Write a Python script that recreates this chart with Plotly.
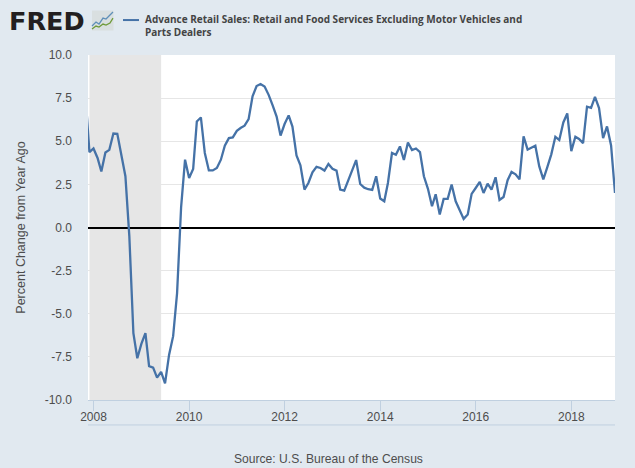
# FRED retail sales chart
import pandas as pd
import plotly.graph_objects as go

# Data (percent change from year ago)
months = pd.date_range("2007-11-01", "2018-12-01", freq="MS")
values_2007_2010 = [7.6, 4.37, 4.58, 4.03, 3.25, 4.35, 4.5, 5.45, 5.43, 4.28, 2.97, -0.5,
                    -6.12, -7.58, -6.75, -6.12, -8.04, -8.12, -8.7, -8.37, -9.04, -7.37, -6.3, -3.8,
                    1.2, 3.93, 2.87, 3.4, 6.15, 6.38, 4.32, 3.31, 3.31, 3.45, 3.93, 4.74]
values_2011_2013 = [5.18, 5.22, 5.6, 5.78, 5.9, 6.28, 7.6, 8.2, 8.32, 8.17, 7.69, 7.1,
                    6.43, 5.33, 6.0, 6.5, 5.85, 4.18, 3.6, 2.2, 2.58, 3.2, 3.52, 3.45,
                    3.3, 3.68, 3.4, 3.3, 2.2, 2.14, 2.76, 3.36, 3.91, 2.52, 2.31, 2.22]
values_2014_2016 = [2.18, 2.97, 1.68, 1.52, 2.58, 4.32, 4.22, 4.7, 3.91, 4.93, 4.49, 4.58,
                    4.37, 2.97, 2.24, 1.23, 1.93, 0.75, 1.66, 1.66, 2.49, 1.52, 1.0, 0.5,
                    0.75, 1.95, 2.29, 2.64, 2.0, 2.54, 2.2, 2.91, 1.6, 1.77, 2.74, 3.22]
values_2017_2018 = [3.08, 2.79, 5.28, 4.51, 4.62, 4.74, 3.54, 2.79, 3.49, 4.24, 5.26, 5.07,
                    6.09, 6.61, 4.43, 5.26, 5.13, 4.89, 7.0, 6.94, 7.57, 6.92, 5.18, 5.86,
                    4.76, 2.0]
values = values_2007_2010 + values_2011_2013 + values_2014_2016 + values_2017_2018

y_ticks = [-10, -7.5, -5, -2.5, 0, 2.5, 5, 7.5, 10]
y_labels = ["-10.0", "-7.5", "-5.0", "-2.5", "0.0", "2.5", "5.0", "7.5", "10.0"]
series_name = "Advance Retail Sales: Retail and Food Services Excluding Motor Vehicles and<br>Parts Dealers"
source_text = "Source: U.S. Bureau of the Census"

BG = "#e1e9f0"
BLUE = "#4572a7"
TEXT = "#4d4d4d"
AXIS = "#c0d0e0"
W, H = 635, 468
L, R, T, B = 88, 20, 55, 67.5


# paper coordinates are relative to the plot area
def px(x):
    return (x - L) / (W - L - R)


def py(y):
    return (H - B - y) / (H - T - B)


fig = go.Figure()
fig.add_trace(go.Scatter(x=months, y=values, mode="lines", line=dict(color=BLUE, width=2.3),
                         showlegend=False))

fig.update_layout(
    width=W, height=H, margin=dict(l=L, r=R, t=T, b=B, pad=0),
    paper_bgcolor=BG, plot_bgcolor="white",
    font=dict(family="Liberation Sans", size=12, color=TEXT),
    xaxis=dict(range=["2007-11-20", "2018-12-01"], tick0="2008-01-01", dtick="M24", tickformat="%Y",
               showgrid=False, ticks="outside", ticklen=10, tickcolor=AXIS, tickwidth=1,
               showline=True, linecolor=AXIS, linewidth=1, zeroline=False, ticklabelstandoff=-4,
               tickfont=dict(size=12, color=TEXT)),
    yaxis=dict(range=[-10, 10], tickvals=y_ticks, ticktext=y_labels, showgrid=True,
               gridcolor="#e6e6e6", gridwidth=1, showline=False, ticks="",
               zeroline=True, zerolinecolor="black", zerolinewidth=2,
               ticklabelstandoff=15, tickfont=dict(size=12, color=TEXT),
               title=dict(text="Percent Change from Year Ago", standoff=16,
                          font=dict(size=12.5, color=TEXT))),
)

# recession band
fig.add_shape(type="rect", xref="x", yref="y", x0="2007-12-01", x1="2009-06-01", y0=-10, y1=10,
              fillcolor="#e6e6e6", line_width=0, layer="below")

# navigator line under the axis
fig.add_shape(type="line", xref="paper", yref="paper", x0=0, x1=1, y0=py(425.5), y1=py(425.5),
              line=dict(color=AXIS, width=1))

# logo, icon and legend header
fig.add_annotation(xref="paper", yref="paper", x=px(7), y=py(21), xanchor="left", yanchor="middle",
                   text="<b>FRED</b>", showarrow=False,
                   font=dict(family="DejaVu Sans", size=25.5, color="#231f20"))
fig.add_shape(type="rect", xref="paper", yref="paper", x0=px(92), x1=px(113.5), y0=py(30.5), y1=py(10.5),
              fillcolor="#d9dfe0", line_width=0)
logo_blue_x = [92, 96, 99, 103, 106, 110, 113]
logo_blue_y = [26, 22, 24, 18, 19, 15, 12]
logo_green_x = [92, 96, 99, 103, 106, 110, 113]
logo_green_y = [29, 26, 27, 24, 25, 23, 18]
for xs, ys, color in [(logo_blue_x, logo_blue_y, "#5f8fb8"), (logo_green_x, logo_green_y, "#6f9a3a")]:
    path = "M " + " L ".join(f"{px(a):.4f} {py(b):.4f}" for a, b in zip(xs, ys))
    fig.add_shape(type="path", xref="paper", yref="paper", path=path, line=dict(color=color, width=1.3))
fig.add_shape(type="line", xref="paper", yref="paper", x0=px(123), x1=px(139), y0=py(20), y1=py(20),
              line=dict(color=BLUE, width=2))
fig.add_annotation(xref="paper", yref="paper", x=px(142.5), y=py(25), xanchor="left", yanchor="middle",
                   align="left", text="<b>" + series_name.replace("<br>", "</b><br><b>") + "</b>",
                   showarrow=False, font=dict(family="Open Sans", size=10, color="#444444"))

# source line
fig.add_annotation(xref="paper", yref="paper", x=px(328), y=py(459.5), xanchor="center", yanchor="middle",
                   text=source_text, showarrow=False, font=dict(size=12.1, color=TEXT))

fig.write_html("out.html", config={"displayModeBar": False},
               post_script="document.body.style.margin='0';")
